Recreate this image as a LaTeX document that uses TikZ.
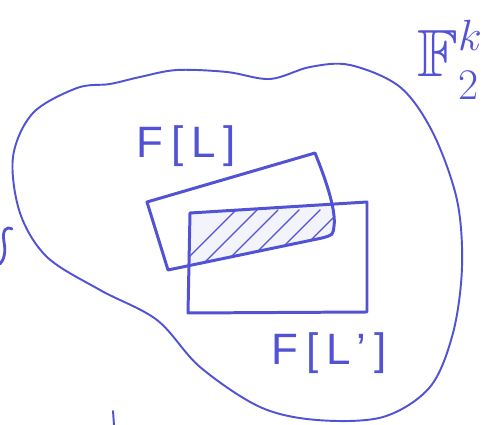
\documentclass[tikz,border=0pt]{standalone}
\usepackage{amssymb}
\usepackage{fontspec}
\setmainfont{Liberation Sans}
\definecolor{pen}{RGB}{82,82,212}

\begin{document}
\begin{tikzpicture}[x=0.02cm, y=-0.02cm, line join=round, line cap=round,
    pen line/.style={draw=pen, line width=1.1pt},
    box line/.style={draw=pen, line width=1.7pt},
    hand/.style={text=pen, inner sep=0pt, font=\fontsize{25}{27}\selectfont\addfontfeatures{LetterSpace=18}}]
    \useasboundingbox (0,0) rectangle (487,425);

    % the outer blob
    \draw[pen line] plot[smooth cycle, tension=0.55] coordinates {
        (110,84) (140,77) (177,70) (227,72) (270,79) (310,67) (350,65) (400,87)
        (433,133) (457,200) (462,267) (453,333) (430,387) (383,417) (317,420)
        (260,407) (200,367) (157,320) (100,290) (47,257) (20,213) (13,157)
        (33,113) (77,88)};

    % hatched overlap
    \begin{scope}
        \clip (190,213) -- (367,202) -- (367,312) -- (188,313) -- cycle;
        \clip (147,202) -- (315,153) .. controls (328,185) and (336,212) .. (334,226)
              .. controls (333,235) .. (322,238) -- (168,270) -- cycle;
        \fill[pen!7] (180,190) rectangle (340,280);
        \foreach \i in {0,...,7}
            \draw[pen, line width=0.8pt] (172+\i*21,274) -- ++(64,-64);
    \end{scope}

    % F[L] and F[L']
    \draw[box line] (147,202) -- (315,153) .. controls (328,185) and (336,212) .. (334,226)
        .. controls (333,235) .. (322,238) -- (168,270) -- cycle;
    \draw[box line] (190,213) -- (367,202) -- (367,312) -- (188,313) -- cycle;

    \node (fl) [hand] at (186,146) {F[L]};
    \node (flp) [hand] at (329,353) {F[L']};
    \node (field) [text=pen, font=\fontsize{38}{42}\selectfont] at (450,60)
        {$\mathbb{F}_2^{\raisebox{6pt}{$\scriptstyle k$}}$};

    % cut-off strokes at the edges
    \draw[pen line, line width=1.6pt] (12,229) .. controls (6,226) and (2,230) .. (4,242)
        .. controls (6,252) and (4,260) .. (0,264);
    \draw[pen line] (113,411) -- (114,425);
\end{tikzpicture}
\end{document}
